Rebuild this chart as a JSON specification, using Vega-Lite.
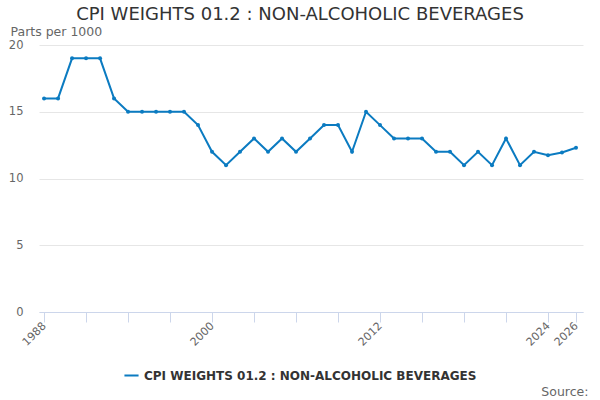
{
  "$schema": "https://vega.github.io/schema/vega-lite/v6.json",
  "autosize": {"type": "none"},
  "width": 544,
  "height": 267,
  "padding": {"left": 39, "top": 45, "right": 17, "bottom": 88},
  "background": "white",
  "title": {
    "text": "CPI WEIGHTS 01.2 : NON-ALCOHOLIC BEVERAGES",
    "anchor": "middle",
    "frame": "group",
    "dx": -11,
    "offset": 1,
    "font": "DejaVu Sans",
    "fontSize": 18,
    "fontWeight": "normal",
    "color": "#333333"
  },
  "config": {
    "view": {"stroke": null},
    "font": "DejaVu Sans"
  },
  "data": {
    "values": [
      {"year": 1988, "value": 16, "series": "CPI WEIGHTS 01.2 : NON-ALCOHOLIC BEVERAGES"},
      {"year": 1989, "value": 16, "series": "CPI WEIGHTS 01.2 : NON-ALCOHOLIC BEVERAGES"},
      {"year": 1990, "value": 19, "series": "CPI WEIGHTS 01.2 : NON-ALCOHOLIC BEVERAGES"},
      {"year": 1991, "value": 19, "series": "CPI WEIGHTS 01.2 : NON-ALCOHOLIC BEVERAGES"},
      {"year": 1992, "value": 19, "series": "CPI WEIGHTS 01.2 : NON-ALCOHOLIC BEVERAGES"},
      {"year": 1993, "value": 16, "series": "CPI WEIGHTS 01.2 : NON-ALCOHOLIC BEVERAGES"},
      {"year": 1994, "value": 15, "series": "CPI WEIGHTS 01.2 : NON-ALCOHOLIC BEVERAGES"},
      {"year": 1995, "value": 15, "series": "CPI WEIGHTS 01.2 : NON-ALCOHOLIC BEVERAGES"},
      {"year": 1996, "value": 15, "series": "CPI WEIGHTS 01.2 : NON-ALCOHOLIC BEVERAGES"},
      {"year": 1997, "value": 15, "series": "CPI WEIGHTS 01.2 : NON-ALCOHOLIC BEVERAGES"},
      {"year": 1998, "value": 15, "series": "CPI WEIGHTS 01.2 : NON-ALCOHOLIC BEVERAGES"},
      {"year": 1999, "value": 14, "series": "CPI WEIGHTS 01.2 : NON-ALCOHOLIC BEVERAGES"},
      {"year": 2000, "value": 12, "series": "CPI WEIGHTS 01.2 : NON-ALCOHOLIC BEVERAGES"},
      {"year": 2001, "value": 11, "series": "CPI WEIGHTS 01.2 : NON-ALCOHOLIC BEVERAGES"},
      {"year": 2002, "value": 12, "series": "CPI WEIGHTS 01.2 : NON-ALCOHOLIC BEVERAGES"},
      {"year": 2003, "value": 13, "series": "CPI WEIGHTS 01.2 : NON-ALCOHOLIC BEVERAGES"},
      {"year": 2004, "value": 12, "series": "CPI WEIGHTS 01.2 : NON-ALCOHOLIC BEVERAGES"},
      {"year": 2005, "value": 13, "series": "CPI WEIGHTS 01.2 : NON-ALCOHOLIC BEVERAGES"},
      {"year": 2006, "value": 12, "series": "CPI WEIGHTS 01.2 : NON-ALCOHOLIC BEVERAGES"},
      {"year": 2007, "value": 13, "series": "CPI WEIGHTS 01.2 : NON-ALCOHOLIC BEVERAGES"},
      {"year": 2008, "value": 14, "series": "CPI WEIGHTS 01.2 : NON-ALCOHOLIC BEVERAGES"},
      {"year": 2009, "value": 14, "series": "CPI WEIGHTS 01.2 : NON-ALCOHOLIC BEVERAGES"},
      {"year": 2010, "value": 12, "series": "CPI WEIGHTS 01.2 : NON-ALCOHOLIC BEVERAGES"},
      {"year": 2011, "value": 15, "series": "CPI WEIGHTS 01.2 : NON-ALCOHOLIC BEVERAGES"},
      {"year": 2012, "value": 14, "series": "CPI WEIGHTS 01.2 : NON-ALCOHOLIC BEVERAGES"},
      {"year": 2013, "value": 13, "series": "CPI WEIGHTS 01.2 : NON-ALCOHOLIC BEVERAGES"},
      {"year": 2014, "value": 13, "series": "CPI WEIGHTS 01.2 : NON-ALCOHOLIC BEVERAGES"},
      {"year": 2015, "value": 13, "series": "CPI WEIGHTS 01.2 : NON-ALCOHOLIC BEVERAGES"},
      {"year": 2016, "value": 12, "series": "CPI WEIGHTS 01.2 : NON-ALCOHOLIC BEVERAGES"},
      {"year": 2017, "value": 12, "series": "CPI WEIGHTS 01.2 : NON-ALCOHOLIC BEVERAGES"},
      {"year": 2018, "value": 11, "series": "CPI WEIGHTS 01.2 : NON-ALCOHOLIC BEVERAGES"},
      {"year": 2019, "value": 12, "series": "CPI WEIGHTS 01.2 : NON-ALCOHOLIC BEVERAGES"},
      {"year": 2020, "value": 11, "series": "CPI WEIGHTS 01.2 : NON-ALCOHOLIC BEVERAGES"},
      {"year": 2021, "value": 13, "series": "CPI WEIGHTS 01.2 : NON-ALCOHOLIC BEVERAGES"},
      {"year": 2022, "value": 11, "series": "CPI WEIGHTS 01.2 : NON-ALCOHOLIC BEVERAGES"},
      {"year": 2023, "value": 12, "series": "CPI WEIGHTS 01.2 : NON-ALCOHOLIC BEVERAGES"},
      {"year": 2024, "value": 11.75, "series": "CPI WEIGHTS 01.2 : NON-ALCOHOLIC BEVERAGES"},
      {"year": 2025, "value": 11.95, "series": "CPI WEIGHTS 01.2 : NON-ALCOHOLIC BEVERAGES"},
      {"year": 2026, "value": 12.3, "series": "CPI WEIGHTS 01.2 : NON-ALCOHOLIC BEVERAGES"}
    ]
  },
  "mark": {
    "type": "line",
    "strokeWidth": 2,
    "point": {"filled": true, "size": 16}
  },
  "encoding": {
    "x": {
      "field": "year",
      "type": "quantitative",
      "scale": {"domain": [1987.64, 2026.5], "nice": false, "zero": false},
      "axis": {
        "values": [1988, 1991, 1994, 1997, 2000, 2003, 2006, 2009, 2012, 2015, 2018, 2021, 2024, 2026],
        "labelExpr": "indexof([1988, 2000, 2012, 2024, 2026], datum.value) >= 0 ? datum.value : ''",
        "format": "d",
        "grid": false,
        "domainColor": "#ccd6eb",
        "tickColor": "#ccd6eb",
        "tickSize": 10,
        "labelAngle": -45,
        "labelAlign": "right",
        "labelBaseline": "middle",
        "labelPadding": 2,
        "labelColor": "#666666",
        "labelFontSize": 11,
        "labelOverlap": false,
        "labelFlush": false,
        "title": "Source:",
        "titleX": 549,
        "titleY": 83,
        "titleAlign": "right",
        "titleBaseline": "alphabetic",
        "titleAnchor": null,
        "titleFontSize": 12.5,
        "titleFontWeight": "normal",
        "titleColor": "#666666"
      }
    },
    "y": {
      "field": "value",
      "type": "quantitative",
      "scale": {"domain": [0, 20], "nice": false},
      "axis": {
        "values": [0, 5, 10, 15, 20],
        "gridColor": "#e6e6e6",
        "domain": false,
        "ticks": false,
        "labelPadding": 16,
        "labelColor": "#666666",
        "labelFontSize": 11.5,
        "title": "Parts per 1000",
        "titleAngle": 0,
        "titleX": -29,
        "titleY": -14,
        "titleAlign": "left",
        "titleBaseline": "middle",
        "titleFontSize": 12.5,
        "titleFontWeight": "normal",
        "titleColor": "#666666"
      }
    },
    "color": {
      "field": "series",
      "type": "nominal",
      "scale": {"range": ["#0b7bc1"]},
      "legend": {
        "title": null,
        "orient": "none",
        "legendX": 84,
        "legendY": 322,
        "direction": "horizontal",
        "symbolType": "stroke",
        "symbolStrokeWidth": 2,
        "symbolSize": 200,
        "labelFontSize": 12,
        "labelFontWeight": "bold",
        "labelColor": "#333333",
        "labelLimit": 0
      }
    }
  }
}
